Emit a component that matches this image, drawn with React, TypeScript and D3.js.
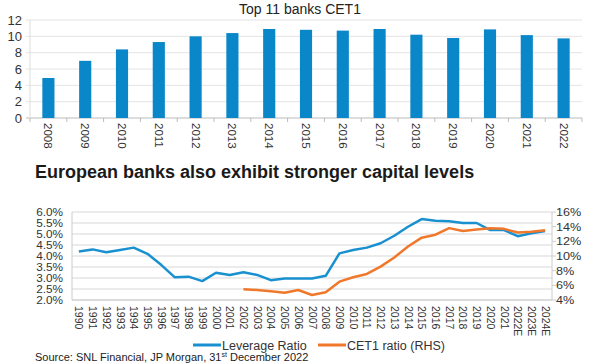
import React, { useEffect, useRef } from 'react';
import * as d3 from 'd3';

const barYears = ['2008', '2009', '2010', '2011', '2012', '2013', '2014', '2015', '2016', '2017', '2018', '2019', '2020', '2021', '2022'];
const cet1Top = [4.9, 7.0, 8.4, 9.3, 10.0, 10.4, 10.9, 10.8, 10.7, 10.9, 10.2, 9.8, 10.85, 10.15, 9.75];
const barTicks = [0, 2, 4, 6, 8, 10, 12];

const lineYears = ['1990', '1991', '1992', '1993', '1994', '1995', '1996', '1997', '1998', '1999', '2000', '2001', '2002', '2003', '2004', '2005', '2006', '2007', '2008', '2009', '2010', '2011', '2012', '2013', '2014', '2015', '2016', '2017', '2018', '2019', '2020', '2021', '2022E', '2023E', '2024E'];
const leverage = [4.2, 4.3, 4.17, 4.27, 4.38, 4.1, 3.6, 3.03, 3.06, 2.86, 3.24, 3.14, 3.26, 3.14, 2.9, 2.98, 2.98, 2.98, 3.1, 4.12, 4.27, 4.38, 4.58, 4.92, 5.33, 5.68, 5.6, 5.58, 5.5, 5.5, 5.18, 5.18, 4.9, 5.03, 5.13];
// CET1 ratio starts in 2002
const cet1 = [null, null, null, null, null, null, null, null, null, null, null, null, 5.46, 5.36, 5.18, 5.0, 5.36, 4.68, 5.05, 6.5, 7.1, 7.55, 8.55, 9.8, 11.3, 12.5, 12.9, 13.8, 13.4, 13.6, 13.8, 13.7, 13.2, 13.3, 13.5];
const leftTicks = [2.0, 2.5, 3.0, 3.5, 4.0, 4.5, 5.0, 5.5, 6.0];
const rightTicks = [4, 6, 8, 10, 12, 14, 16];

const barColor = '#0a87c9';
const blue = '#1990cf';
const orange = '#f0782a';
const font = 'Liberation Sans, Arial, sans-serif';

export default function App() {
  const svgRef = useRef<SVGSVGElement>(null);

  useEffect(() => {
    if (!svgRef.current) return;
    const svg = d3.select(svgRef.current);
    svg.selectAll('*').remove();

    // ---- top bar chart ----
    const top = { left: 30, right: 582, top: 20, bottom: 118 };
    const x0 = d3.scaleBand().domain(barYears).range([top.left, top.right]).paddingInner(0.67).paddingOuter(0.335);
    const y0 = d3.scaleLinear().domain([0, 12]).range([top.bottom, top.top]);

    svg.append('text')
      .attr('x', 300).attr('y', 14)
      .attr('text-anchor', 'middle')
      .style('font-family', font).style('font-size', '14px').attr('fill', '#222')
      .text('Top 11 banks CET1');

    const gTop = svg.append('g');
    gTop.selectAll('line.grid')
      .data(barTicks)
      .join('line')
      .attr('x1', top.left - 4).attr('x2', top.right)
      .attr('y1', d => y0(d)).attr('y2', d => y0(d))
      .attr('stroke', d => (d === 0 ? '#bbb' : '#e4e4e4'));
    gTop.append('line')
      .attr('x1', top.left).attr('x2', top.left)
      .attr('y1', top.top).attr('y2', top.bottom)
      .attr('stroke', '#ddd');
    gTop.selectAll('text.ytick')
      .data(barTicks)
      .join('text')
      .attr('x', 22).attr('y', d => y0(d) + 4.5)
      .attr('text-anchor', 'end')
      .style('font-family', font).style('font-size', '13px').attr('fill', '#333')
      .text(d => d);
    gTop.selectAll('rect')
      .data(cet1Top)
      .join('rect')
      .attr('x', (_, i) => x0(barYears[i])!)
      .attr('y', d => y0(d))
      .attr('width', x0.bandwidth())
      .attr('height', d => top.bottom - y0(d))
      .attr('fill', barColor);
    const step0 = x0.step();
    gTop.selectAll('line.xtick')
      .data(d3.range(barYears.length + 1))
      .join('line')
      .attr('x1', i => top.left + i * step0).attr('x2', i => top.left + i * step0)
      .attr('y1', top.bottom).attr('y2', top.bottom + 4)
      .attr('stroke', '#bbb');
    gTop.selectAll('text.xlab')
      .data(barYears)
      .join('text')
      .attr('transform', d => `translate(${x0(d)! + x0.bandwidth() / 2 - 4},123) rotate(90)`)
      .style('font-family', font).style('font-size', '11.5px').attr('fill', '#333')
      .text(d => d);

    // ---- lower line chart ----
    svg.append('text')
      .attr('x', 35).attr('y', 178)
      .style('font-family', font).style('font-size', '18px').style('font-weight', 'bold').attr('fill', '#1a1a1a')
      .text('European banks also exhibit stronger capital levels');

    const low = { left: 72, right: 552, top: 212, bottom: 300 };
    const x1 = d3.scaleBand().domain(lineYears).range([low.left, low.right]);
    const yL = d3.scaleLinear().domain([2, 6]).range([low.bottom, low.top]);
    const yR = d3.scaleLinear().domain([4, 16]).range([low.bottom, low.top]);
    const g = svg.append('g');

    g.selectAll('line.grid')
      .data(leftTicks)
      .join('line')
      .attr('x1', low.left).attr('x2', low.right)
      .attr('y1', d => yL(d)).attr('y2', d => yL(d))
      .attr('stroke', '#e4e4e4').attr('stroke-width', 1.5);
    g.append('line')
      .attr('x1', low.left).attr('x2', low.left).attr('y1', low.top).attr('y2', low.bottom)
      .attr('stroke', '#ccc');
    g.append('line')
      .attr('x1', low.right).attr('x2', low.right).attr('y1', low.top).attr('y2', low.bottom)
      .attr('stroke', '#ccc');
    g.append('line')
      .attr('x1', low.left).attr('x2', low.right).attr('y1', low.bottom).attr('y2', low.bottom)
      .attr('stroke', '#ccc');
    g.selectAll('line.rtick')
      .data(rightTicks)
      .join('line')
      .attr('x1', low.right).attr('x2', low.right + 4)
      .attr('y1', d => yR(d)).attr('y2', d => yR(d))
      .attr('stroke', '#ccc');

    // left tick labels are wide but short in the reference
    g.selectAll('text.yl')
      .data(leftTicks)
      .join('text')
      .attr('transform', d => `translate(63,${yL(d) + 3.5}) scale(1.18,1)`)
      .attr('text-anchor', 'end')
      .style('font-family', font).style('font-size', '10px').attr('fill', '#333')
      .text(d => d3.format('.1f')(d) + '%');
    g.selectAll('text.yr')
      .data(rightTicks)
      .join('text')
      .attr('transform', d => `translate(556,${yR(d) + 4}) scale(1.15,1)`)
      .style('font-family', font).style('font-size', '11px').attr('fill', '#333')
      .text(d => d + '%');

    g.selectAll('text.xlab')
      .data(lineYears)
      .join('text')
      .attr('transform', d => `translate(${x1(d)! + x1.bandwidth() / 2 - 3.5},306) rotate(90)`)
      .style('font-family', font).style('font-size', '10.5px').attr('fill', '#333')
      .text(d => d);

    const cx = (i: number) => x1(lineYears[i])! + x1.bandwidth() / 2;
    const levLine = d3.line<number>().x((_, i) => cx(i)).y(d => yL(d));
    g.append('path')
      .attr('d', levLine(leverage))
      .attr('fill', 'none').attr('stroke', blue).attr('stroke-width', 2.5).attr('stroke-linejoin', 'round');
    const cetLine = d3.line<number | null>()
      .defined(d => d != null)
      .x((_, i) => cx(i)).y(d => yR(d as number));
    g.append('path')
      .attr('d', cetLine(cet1))
      .attr('fill', 'none').attr('stroke', orange).attr('stroke-width', 2.5).attr('stroke-linejoin', 'round');

    // legend
    const legend = [
      { label: 'Leverage Ratio', color: blue, x: 193 },
      { label: 'CET1 ratio (RHS)', color: orange, x: 318 },
    ];
    legend.forEach(l => {
      svg.append('line')
        .attr('x1', l.x).attr('x2', l.x + 28).attr('y1', 345).attr('y2', 345)
        .attr('stroke', l.color).attr('stroke-width', 3);
      svg.append('text')
        .attr('x', l.x + 29).attr('y', 349.5)
        .style('font-family', font).style('font-size', '12.5px').attr('fill', '#333')
        .text(l.label);
    });

    const src = svg.append('text')
      .attr('x', 35).attr('y', 361)
      .style('font-family', font).style('font-size', '11px').attr('fill', '#222');
    src.append('tspan').text('Source: SNL Financial, JP Morgan, 31');
    src.append('tspan').attr('dy', -4).style('font-size', '7px').text('st');
    src.append('tspan').attr('dy', 4).text(' December 2022');
  }, []);

  return (
    <svg ref={svgRef} width={600} height={364}
      style={{ position: 'absolute', left: 0, top: 0, background: '#fff' }} />
  );
}
